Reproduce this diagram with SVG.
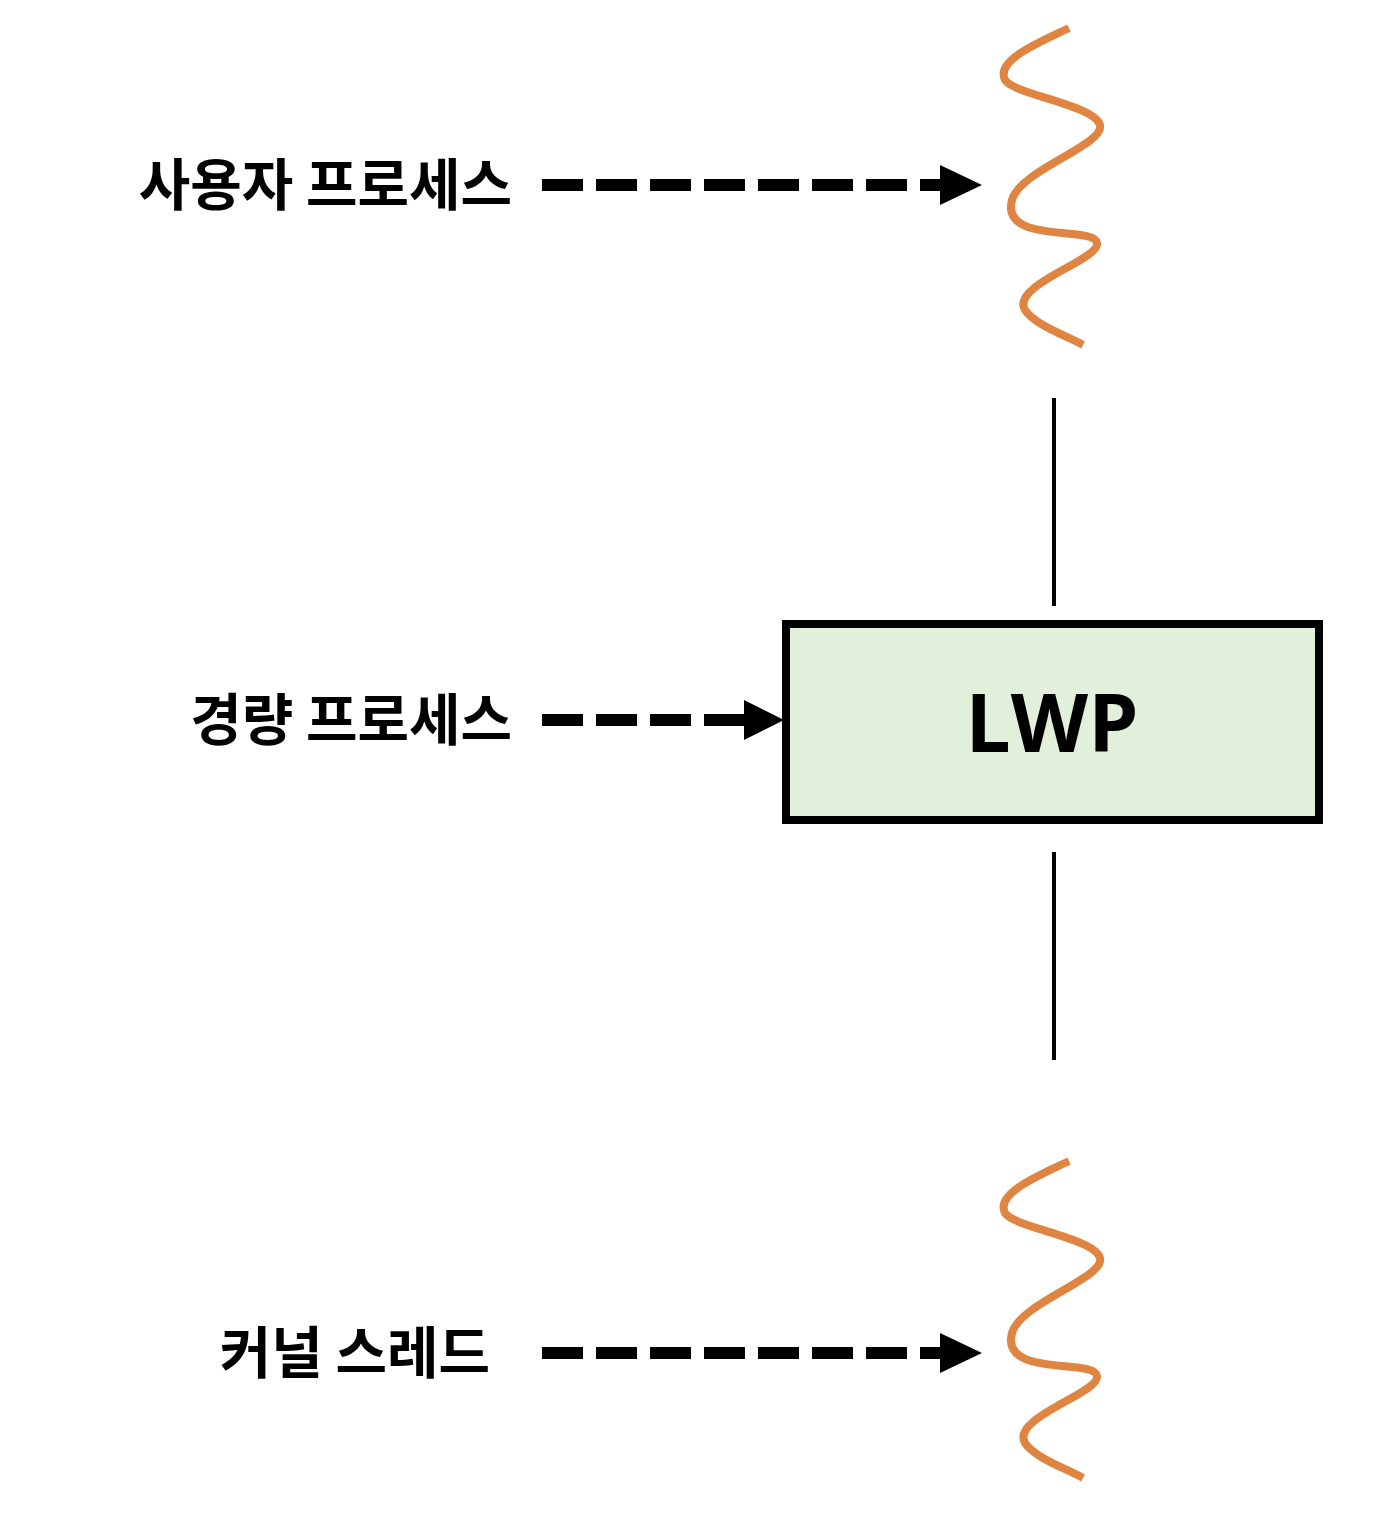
<svg xmlns="http://www.w3.org/2000/svg" width="1382" height="1530" viewBox="0 0 1382 1530">
<style>
.lbl{font-family:"Noto Sans CJK KR",sans-serif;font-weight:bold;font-size:56px;fill:#000}
.dash{stroke:#000;stroke-width:12;stroke-dasharray:41 13;fill:none}
.wave{stroke:#E08442;stroke-width:8;fill:none;stroke-linecap:butt}
.vl{stroke:#000;stroke-width:4}
</style>
<defs>
<path id="w" d="M1069,28 C1040,42 995,60 1005,80 C1015,95 1095,105 1100,125 C1105,145 1020,170 1012,200 C1000,245 1095,225 1097,243 C1100,260 1010,285 1025,310 C1035,325 1065,335 1083,345"/>
</defs>
<g id="wave-top"><use href="#w" class="wave"/></g>
<g id="wave-bottom"><use href="#w" class="wave" transform="translate(0,1133)"/></g>
<g id="lwp">
<rect x="786" y="624" width="533" height="196" fill="#E2EFDA" stroke="#000" stroke-width="8"/>
<text x="1052" y="752" text-anchor="middle" style="font-family:'Open Sans',sans-serif;font-weight:bold;font-size:80px" fill="#000">LWP</text>
</g>
<g id="label-user"><text class="lbl" x="512" y="205" text-anchor="end">사용자 프로세스</text></g>
<g id="label-lwp"><text class="lbl" x="512" y="740" text-anchor="end">경량 프로세스</text></g>
<g id="label-kernel"><text class="lbl" x="490" y="1373" text-anchor="end">커널 스레드</text></g>
<g id="connectors">
<line class="dash" x1="542" y1="185" x2="940" y2="185"/>
<polygon points="940,165 982,185 940,205"/>
<line class="dash" x1="542" y1="720" x2="744" y2="720"/>
<polygon points="744,700 784,720 744,740"/>
<line class="dash" x1="542" y1="1353" x2="940" y2="1353"/>
<polygon points="940,1333 982,1353 940,1373"/>
<line class="vl" x1="1054" y1="398" x2="1054" y2="606"/>
<line class="vl" x1="1054" y1="852" x2="1054" y2="1060"/>
</g>
</svg>
